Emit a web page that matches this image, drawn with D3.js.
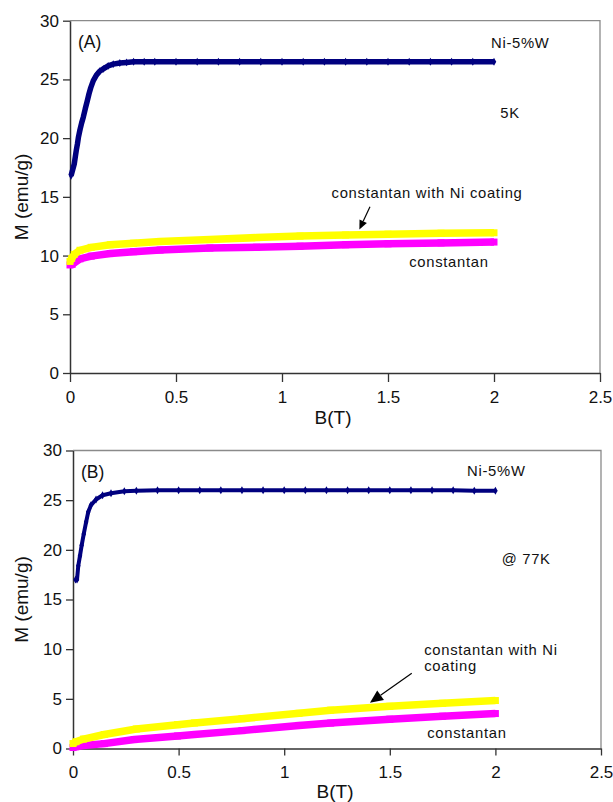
<!DOCTYPE html>
<html><head><meta charset="utf-8">
<script src="https://cdn.jsdelivr.net/npm/d3@7"></script>
<style>
body{margin:0;background:#fff;}
text{font-family:"Liberation Sans",Arial,Helvetica,sans-serif;fill:#111;}
</style></head>
<body>
<svg id="chart" width="613" height="802"></svg>
<script>
// ---------- data ----------
const xTicks = [0, 0.5, 1, 1.5, 2, 2.5];
const yTicks = [0, 5, 10, 15, 20, 25, 30];
const xTickLabels = ["0", "0.5", "1", "1.5", "2", "2.5"];

// Panel A (5 K)
const niA_B = [0.005,0.02,0.025,0.03,0.035,0.04,0.047,0.055,0.063,0.072,0.082,0.09,0.098,0.11,0.126,0.14,0.157,0.18,0.204,0.235,0.267,0.3,0.35,0.4,0.5,0.6,0.7,0.8,0.9,1.0,1.1,1.2,1.3,1.4,1.5,1.6,1.7,1.8,1.9,2.0];
const niA_M = [16.8,17.8,18.4,19.0,19.5,20.1,20.7,21.3,21.8,22.5,23.2,23.8,24.3,24.9,25.4,25.7,25.9,26.15,26.3,26.4,26.45,26.5,26.5,26.5,26.5,26.5,26.5,26.5,26.5,26.5,26.5,26.5,26.5,26.5,26.5,26.5,26.5,26.5,26.5,26.5];
const coatA_B = [0,0.008,0.02,0.047,0.1,0.19,0.3,0.425,0.66,0.88,1.085,1.3,1.5,1.75,2.0];
const coatA_M = [9.5,9.76,10.1,10.45,10.7,10.92,11.05,11.2,11.36,11.53,11.66,11.75,11.82,11.9,11.94];
const consA_B = [0,0.01,0.047,0.1,0.19,0.3,0.425,0.66,0.88,1.085,1.3,1.5,1.75,2.0];
const consA_M = [9.2,9.25,9.72,9.95,10.17,10.33,10.47,10.64,10.71,10.8,10.92,11.0,11.08,11.15];

// Panel B (77 K)
const niB_B = [0.012,0.019,0.025,0.033,0.041,0.051,0.062,0.072,0.085,0.109,0.14,0.18,0.243,0.3,0.4,0.5,0.6,0.7,0.8,0.9,1.0,1.1,1.2,1.3,1.4,1.5,1.6,1.7,1.8,1.9,2.0];
const niB_M = [17.0,17.0,18.4,19.4,20.45,21.6,22.8,23.8,24.5,25.07,25.5,25.7,25.9,25.95,26.0,26.0,26.0,26.0,26.0,26.0,26.0,26.0,26.0,26.0,26.0,26.0,26.0,26.0,26.0,25.95,25.95];
const coatB_B = [0,0.014,0.05,0.148,0.3,0.495,0.575,0.8,1.07,1.22,1.5,1.75,2.0];
const coatB_M = [0.5,0.68,0.95,1.41,1.96,2.4,2.57,3.0,3.54,3.86,4.25,4.55,4.83];
const consB_B = [0,0.014,0.05,0.148,0.29,0.495,0.575,0.8,1.07,1.22,1.5,1.75,2.0];
const consB_M = [0.1,0.18,0.3,0.49,0.9,1.26,1.41,1.8,2.32,2.56,2.95,3.25,3.52];

const seriesNames = ["Ni-5%W", "constantan with Ni coating", "constantan"];
const colors = {ni: "#00007f", coat: "#ffff00", cons: "#ff00ff"};

// ---------- drawing ----------
const svg = d3.select("#chart");

function panel(cfg) {
  const x = d3.scaleLinear().domain([0, 2.5]).range([cfg.left, cfg.right]);
  const y = d3.scaleLinear().domain([0, 30]).range([cfg.bottom, cfg.top]);
  const g = svg.append("g");

  // frame (top and right)
  g.append("path")
    .attr("d", `M${cfg.left},${cfg.top}H${cfg.right}V${cfg.bottom}`)
    .attr("fill", "none").attr("stroke", "#8a8a8a").attr("stroke-width", 1.3);

  const xa = g.append("g").attr("transform", `translate(0,${cfg.bottom})`)
    .call(d3.axisBottom(x).tickValues(xTicks).tickFormat((d,i)=>xTickLabels[i]).tickSize(cfg.xTick).tickSizeOuter(0).tickPadding(cfg.xPad));
  const ya = g.append("g").attr("transform", `translate(${cfg.left},0)`)
    .call(d3.axisLeft(y).tickValues(yTicks).tickSize(7).tickSizeOuter(0).tickPadding(4));
  [xa, ya].forEach(a => {
    a.select(".domain").attr("stroke", "#333").attr("stroke-width", 1.5);
    a.selectAll(".tick line").attr("stroke", "#333").attr("stroke-width", 1.3);
    a.selectAll(".tick text").attr("font-size", 17).attr("fill", "#111")
      .attr("font-family", '"Liberation Sans",Arial,sans-serif');
  });

  const line = d3.line().x(d => x(d[0])).y(d => y(d[1]));
  function draw(B, M, color, w, markers) {
    const pts = B.map((b, i) => [b, M[i]]);
    g.append("path").datum(pts).attr("d", line).attr("fill", "none")
      .attr("stroke", color).attr("stroke-width", w).attr("stroke-linejoin", "round");
    if (markers === "diamond") {
      g.selectAll(null).data(pts).enter().append("path")
        .attr("d", d3.symbol(d3.symbolDiamond, 18))
        .attr("transform", d => `translate(${x(d[0])},${y(d[1])})`)
        .attr("fill", color);
    } else if (markers === "square") {
      g.selectAll(null).data(pts).enter().append("rect")
        .attr("x", d => x(d[0]) - 3.5).attr("y", d => y(d[1]) - 3.5)
        .attr("width", 7).attr("height", 7).attr("fill", color);
    }
  }
  draw(cfg.cons[0], cfg.cons[1], colors.cons, 7.5, "square");
  draw(cfg.coat[0], cfg.coat[1], colors.coat, 7.5, "square");
  draw(cfg.ni[0], cfg.ni[1], colors.ni, cfg.niW, "diamond");

  // axis titles
  g.append("text").attr("x", (cfg.left + cfg.right) / 2 - 2).attr("y", cfg.xTitleY)
    .attr("text-anchor", "middle").attr("font-size", 19).text("B(T)");
  g.append("text").attr("transform", `translate(${cfg.yTitleX},${(cfg.top + cfg.bottom) / 2})rotate(-90)`)
    .attr("text-anchor", "middle").attr("font-size", 19).text("M (emu/g)");
  // panel letter
  g.append("text").attr("x", cfg.left + 8).attr("y", cfg.top + 27)
    .attr("font-size", 17.5).text(cfg.letter);

  // annotations (data coordinates)
  cfg.notes.forEach(n => {
    n.lines.forEach((s, i) => g.append("text")
      .attr("x", x(n.b)).attr("y", y(n.m) + i * 16)
      .attr("font-size", 14.8).attr("letter-spacing", 0.7).text(s));
  });
  // arrow
  const a = cfg.arrow;
  const x1 = x(a.from[0]), y1 = y(a.from[1]), x2 = x(a.to[0]), y2 = y(a.to[1]);
  const ang = Math.atan2(y2 - y1, x2 - x1);
  const hl = a.head, hw = a.head * 0.45;
  const bx = x2 - hl * Math.cos(ang), by = y2 - hl * Math.sin(ang);
  g.append("line").attr("x1", x1).attr("y1", y1).attr("x2", bx).attr("y2", by)
    .attr("stroke", "#000").attr("stroke-width", 1.2);
  g.append("path").attr("d",
    `M${x2},${y2}L${bx + hw * Math.sin(ang)},${by - hw * Math.cos(ang)}L${bx - hw * Math.sin(ang)},${by + hw * Math.cos(ang)}Z`)
    .attr("fill", "#000");
}

panel({
  left: 70, right: 600, top: 20.7, bottom: 373, xTick: 9, xPad: 9, xTitleY: 424, yTitleX: 28,
  letter: "(A)", niW: 5.5,
  ni: [niA_B, niA_M], coat: [coatA_B, coatA_M], cons: [consA_B, consA_M],
  notes: [
    {b: 1.986, m: 27.67, lines: [seriesNames[0]]},
    {b: 2.03, m: 21.74, lines: ["5K"]},
    {b: 1.234, m: 14.9, lines: [seriesNames[1]]},
    {b: 1.6, m: 9.05, lines: [seriesNames[2]]}
  ],
  arrow: {from: [1.415, 14.16], to: [1.365, 12.23], head: 9}
});

panel({
  left: 73, right: 601, top: 450.5, bottom: 748.5, xTick: 7, xPad: 10, xTitleY: 798, yTitleX: 28,
  letter: "(B)", niW: 4,
  ni: [niB_B, niB_M], coat: [coatB_B, coatB_M], cons: [consB_B, consB_M],
  notes: [
    {b: 1.866, m: 27.44, lines: [seriesNames[0]]},
    {b: 2.03, m: 18.58, lines: ["@ 77K"]},
    {b: 1.663, m: 9.4, lines: ["constantan with Ni", "coating"]},
    {b: 1.677, m: 1.03, lines: [seriesNames[2]]}
  ],
  arrow: {from: [1.604, 7.57], to: [1.406, 4.61], head: 13}
});
</script>
</body></html>
